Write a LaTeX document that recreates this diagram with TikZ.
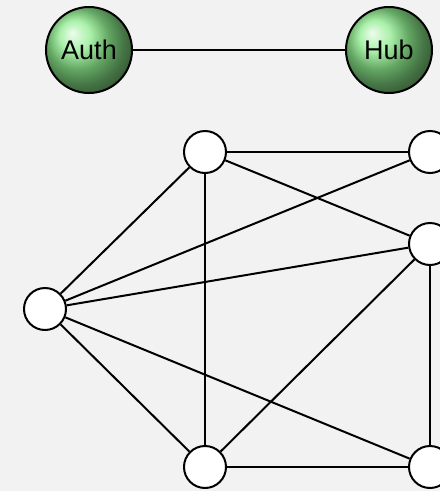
\documentclass[tikz,border=0pt]{standalone}
\usepackage{fontspec}
\setmainfont{Liberation Sans}
\tikzset{
	vertex/.style = {circle, draw, line width=2pt, fill=white, minimum size=42pt, inner sep=0pt},
	role/.style = {circle, draw, line width=2pt, ball color={rgb,255:red,140;green,235;blue,140}, minimum size=86pt, inner sep=0pt, font=\fontsize{27}{30}\selectfont},
	edge/.style = {line width=2pt}
}
\begin{document}
\begin{tikzpicture}[x=1pt, y=-1pt]
	\useasboundingbox[fill={rgb,255:red,242;green,242;blue,242}] (0,0) rectangle (440,491);
	% Nodes
	\node[role] (auth) at (89,50) {Auth};
	\node[role] (hub) at (389,50) {Hub};
	\node[vertex] (top) at (205,152) {};
	\node[vertex] (topright) at (430,152) {};
	\node[vertex] (midright) at (430,244) {};
	\node[vertex] (left) at (45,309) {};
	\node[vertex] (bottom) at (205,467) {};
	\node[vertex] (bottomright) at (430,467) {};

	% Edges
	\draw[edge] (auth) -- (hub);
	\draw[edge] (top) -- (topright);
	\draw[edge] (top) -- (midright);
	\draw[edge] (top) -- (left);
	\draw[edge] (top) -- (bottom);
	\draw[edge] (left) -- (topright);
	\draw[edge] (left) -- (midright);
	\draw[edge] (left) -- (bottom);
	\draw[edge] (left) -- (bottomright);
	\draw[edge] (bottom) -- (bottomright);
	\draw[edge] (bottom) -- (midright);
	\draw[edge] (midright) -- (bottomright);
\end{tikzpicture}
\end{document}
